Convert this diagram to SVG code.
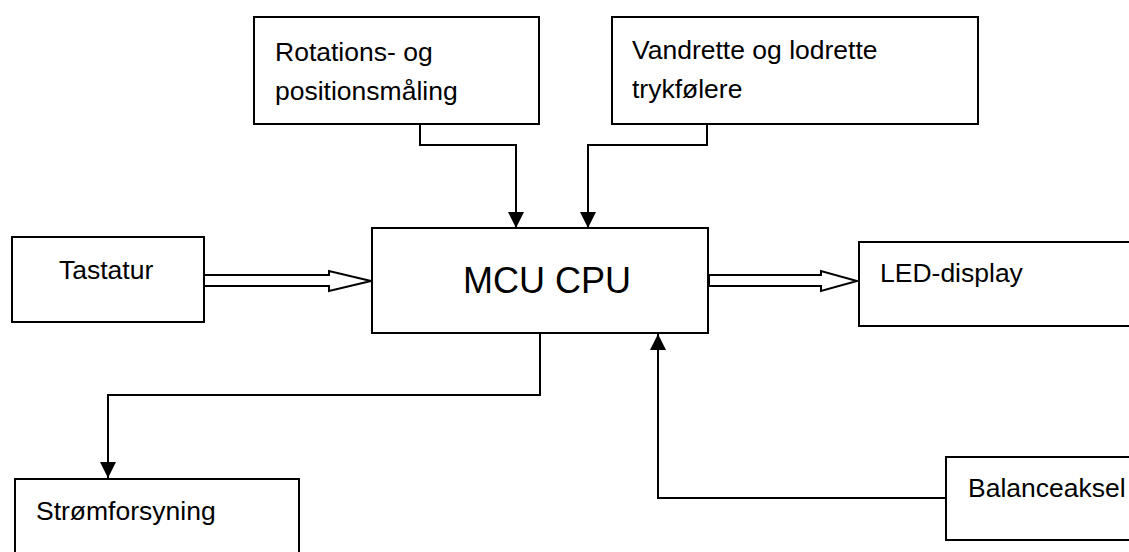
<svg xmlns="http://www.w3.org/2000/svg" width="1129" height="552" viewBox="0 0 1129 552">
<style>
.box{fill:#fff;stroke:#000;stroke-width:2}
.t{font-family:"Liberation Sans",Arial,sans-serif;font-size:26.5px;fill:#000}
.big{font-size:36px}
.ln{fill:none;stroke:#000;stroke-width:2}
.hol{fill:#fff;stroke:#000;stroke-width:2;stroke-linejoin:miter}
</style>
<defs>
<marker id="ah" markerUnits="userSpaceOnUse" markerWidth="16" markerHeight="16" viewBox="0 0 16 16" refX="16" refY="8" orient="auto">
<path d="M0,0 L16,8 L0,16 Z" fill="#000"/>
</marker>
</defs>
<rect width="1129" height="552" fill="#fff"/>
<g id="connectors">
<polyline class="ln" points="420,124 420,145 516,145 516,228" marker-end="url(#ah)"/>
<polyline class="ln" points="707,124 707,145 588,145 588,228" marker-end="url(#ah)"/>
<polyline class="ln" points="540,333 540,395 108,395 108,478" marker-end="url(#ah)"/>
<polyline class="ln" points="946,498 658,498 658,334" marker-end="url(#ah)"/>
<polygon class="hol" points="204,275 329,275 329,271 371,281 329,291 329,286 204,286"/>
<polygon class="hol" points="709,275 821,275 821,271 857,281 821,291 821,286 709,286"/>
</g>
<g id="rotation">
<rect class="box" x="254" y="17" width="285" height="107"/>
<text class="t" x="275" y="61">Rotations- og</text>
<text class="t" x="275" y="100">positionsmåling</text>
</g>
<g id="tryk">
<rect class="box" x="612" y="17" width="366" height="107"/>
<text class="t" x="632" y="59">Vandrette og lodrette</text>
<text class="t" x="632" y="98">trykfølere</text>
</g>
<g id="tastatur">
<rect class="box" x="12" y="237" width="192" height="85"/>
<text class="t" x="59" y="279">Tastatur</text>
</g>
<g id="mcu">
<rect class="box" x="372" y="228" width="336" height="105"/>
<text class="t big" x="463" y="293">MCU CPU</text>
</g>
<g id="led">
<rect class="box" x="859" y="242" width="290" height="84"/>
<text class="t" x="880" y="282">LED-display</text>
</g>
<g id="strom">
<rect class="box" x="15" y="479" width="284" height="90"/>
<text class="t" x="36" y="520">Strømforsyning</text>
</g>
<g id="balance">
<rect class="box" x="946" y="457" width="200" height="83"/>
<text class="t" x="968" y="497">Balanceaksel</text>
</g>
</svg>
